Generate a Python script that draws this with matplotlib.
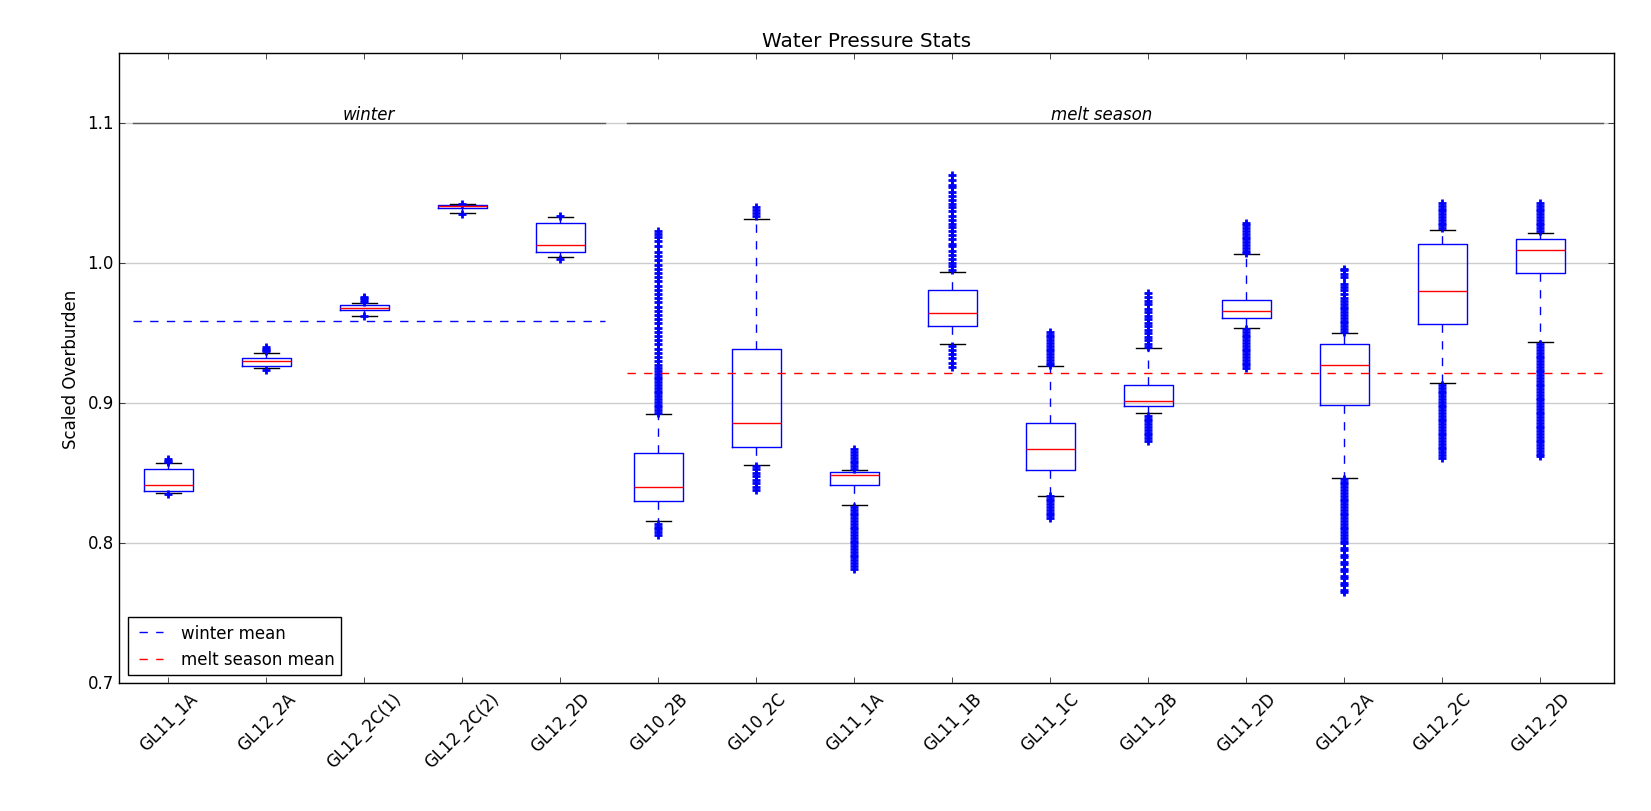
import matplotlib
matplotlib.use("Agg")
import matplotlib.pyplot as plt

plt.style.use("classic")

labels = ["GL11_1A", "GL12_2A", "GL12_2C(1)", "GL12_2C(2)", "GL12_2D",
          "GL10_2B", "GL10_2C", "GL11_1A", "GL11_1B", "GL11_1C",
          "GL11_2B", "GL11_2D", "GL12_2A", "GL12_2C", "GL12_2D"]

# box statistics
q1 = [0.8371, 0.9264, 0.9664, 1.0397, 1.0079, 0.8301, 0.8686, 0.8417,
      0.9550, 0.8527, 0.8979, 0.9612, 0.8986, 0.9564, 0.9929]
med = [0.8418, 0.9300, 0.9683, 1.0407, 1.0131, 0.8401, 0.8858, 0.8489,
       0.9643, 0.8672, 0.9014, 0.9657, 0.9271, 0.9798, 1.0095]
q3 = [0.8531, 0.9322, 0.9702, 1.0418, 1.0286, 0.8643, 0.9386, 0.8508,
      0.9807, 0.8858, 0.9129, 0.9736, 0.9422, 1.0135, 1.0171]
whislo = [0.8356, 0.9250, 0.9626, 1.0357, 1.0043, 0.8158, 0.8560, 0.8274,
          0.9424, 0.8341, 0.8929, 0.9535, 0.8464, 0.9143, 0.9436]
whishi = [0.8575, 0.9357, 0.9714, 1.0420, 1.0331, 0.8922, 1.0314, 0.8524,
          0.9936, 0.9264, 0.9393, 1.0064, 0.9502, 1.0238, 1.0216]

# outliers (dense clouds approximated by closely spaced values)
fl_gl11_1a_w = [0.858, 0.859, 0.860, 0.835]
fl_gl12_2a_w = [0.937, 0.938, 0.939, 0.940, 0.924]
fl_gl12_2c1 = [0.972, 0.9735, 0.975, 0.976, 0.962]
fl_gl12_2c2 = [1.0425, 1.0352]
fl_gl12_2d_w = [1.034, 1.003]
fl_gl10_2b = [0.893, 0.895, 0.897, 0.899, 0.901, 0.903, 0.905, 0.907, 0.909,
              0.911, 0.913, 0.915, 0.917, 0.919, 0.921, 0.923, 0.925, 0.927,
              0.930, 0.933, 0.936, 0.939, 0.942, 0.945, 0.948, 0.951, 0.954,
              0.957, 0.960, 0.963, 0.966, 0.969, 0.972, 0.975, 0.978, 0.981,
              0.984, 0.987, 0.990, 0.993, 0.996, 0.999, 1.002, 1.005, 1.008,
              1.012, 1.016, 1.019, 1.021, 1.023,
              0.806, 0.808, 0.810, 0.812, 0.814]
fl_gl10_2c = [1.034, 1.036, 1.038, 1.040,
              0.838, 0.840, 0.843, 0.845, 0.848, 0.850, 0.853, 0.855]
fl_gl11_1a_m = [0.853, 0.855, 0.857, 0.859, 0.861, 0.863, 0.865, 0.867,
                0.782, 0.784, 0.786, 0.788, 0.790, 0.792, 0.794, 0.796, 0.798,
                0.800, 0.802, 0.804, 0.806, 0.808, 0.810, 0.812, 0.814, 0.816,
                0.818, 0.820, 0.822, 0.824, 0.826]
fl_gl11_1b = [0.995, 0.998, 1.000, 1.003, 1.006, 1.009, 1.012, 1.014, 1.017,
              1.020, 1.023, 1.026, 1.028, 1.031, 1.034, 1.037, 1.040, 1.042,
              1.045, 1.048, 1.051, 1.054, 1.056, 1.059, 1.063,
              0.926, 0.929, 0.932, 0.935, 0.938, 0.941]
fl_gl11_1c = [0.927, 0.929, 0.931, 0.933, 0.935, 0.937, 0.939, 0.941, 0.943,
              0.945, 0.947, 0.949, 0.951,
              0.818, 0.820, 0.822, 0.824, 0.826, 0.828, 0.830, 0.832, 0.834]
fl_gl11_2b = [0.940, 0.942, 0.945, 0.947, 0.950, 0.952, 0.955, 0.957, 0.960,
              0.962, 0.965, 0.967, 0.971, 0.973, 0.976, 0.979,
              0.873, 0.875, 0.877, 0.879, 0.881, 0.883, 0.885, 0.887, 0.889,
              0.891]
fl_gl11_2d = [1.007, 1.009, 1.011, 1.013, 1.015, 1.017, 1.019, 1.021, 1.023,
              1.025, 1.027, 1.029,
              0.925, 0.927, 0.929, 0.931, 0.933, 0.935, 0.937, 0.939, 0.941,
              0.943, 0.945, 0.947, 0.949, 0.951, 0.953]
fl_gl12_2a_m = [0.951, 0.953, 0.955, 0.957, 0.959, 0.961, 0.963, 0.965, 0.967,
                0.969, 0.971, 0.973, 0.975, 0.978, 0.981, 0.983, 0.985, 0.990,
                0.992, 0.995, 0.996,
                0.804, 0.806, 0.808, 0.810, 0.812, 0.814, 0.816, 0.818, 0.820,
                0.822, 0.824, 0.826, 0.828, 0.830, 0.832, 0.834, 0.836, 0.838,
                0.840, 0.842, 0.844, 0.846,
                0.765, 0.767, 0.770, 0.772, 0.775, 0.777, 0.780, 0.782, 0.785,
                0.787, 0.790, 0.792, 0.795, 0.797, 0.800, 0.802]
fl_gl12_2c_m = [1.025, 1.027, 1.029, 1.031, 1.033, 1.035, 1.037, 1.039, 1.041,
                1.043,
                0.861, 0.863, 0.865, 0.867, 0.869, 0.871, 0.873, 0.875, 0.877,
                0.879, 0.881, 0.883, 0.885, 0.887, 0.889, 0.891, 0.893, 0.895,
                0.897, 0.899, 0.901, 0.903, 0.905, 0.907, 0.909, 0.911, 0.913]
fl_gl12_2d_m = [1.023, 1.025, 1.027, 1.029, 1.031, 1.033, 1.035, 1.037, 1.039,
                1.041, 1.043,
                0.862, 0.864, 0.866, 0.868, 0.870, 0.872, 0.874, 0.876, 0.878,
                0.880, 0.882, 0.884, 0.886, 0.888, 0.890, 0.892, 0.894, 0.896,
                0.898, 0.900, 0.902, 0.904, 0.906, 0.908, 0.910, 0.912, 0.914,
                0.916, 0.918, 0.920, 0.922, 0.924, 0.926, 0.928, 0.930, 0.932,
                0.934, 0.936, 0.938, 0.940, 0.942]

fliers = [fl_gl11_1a_w, fl_gl12_2a_w, fl_gl12_2c1, fl_gl12_2c2, fl_gl12_2d_w,
          fl_gl10_2b, fl_gl10_2c, fl_gl11_1a_m, fl_gl11_1b, fl_gl11_1c,
          fl_gl11_2b, fl_gl11_2d, fl_gl12_2a_m, fl_gl12_2c_m, fl_gl12_2d_m]

winter_mean = 0.9586
melt_mean = 0.9216
winter_span = [0.64, 5.46]
melt_span = [5.675, 15.64]
season_level = 1.1

stats = []
for i in range(len(labels)):
    stats.append({
        "label": labels[i],
        "q1": q1[i],
        "med": med[i],
        "q3": q3[i],
        "whislo": whislo[i],
        "whishi": whishi[i],
        "fliers": fliers[i],
    })

fig = plt.figure(figsize=(16.51, 8.12), facecolor="white")
ax = fig.add_axes([0.0723, 0.1571, 0.9055, 0.7764])

ax.yaxis.grid(True, color="0.8", linestyle="-", linewidth=1)
ax.set_axisbelow(True)

ax.bxp(
    stats,
    widths=0.5,
    boxprops=dict(color="b", linewidth=1),
    whiskerprops=dict(color="b", linestyle="--", linewidth=1),
    capprops=dict(color="k", linewidth=1),
    medianprops=dict(color="r", linewidth=1),
    flierprops=dict(marker="+", markeredgecolor="b", markersize=6,
                    markeredgewidth=2.0, linestyle="none"),
)

# season markers along the top
ax.plot(winter_span, [season_level, season_level], color="0.35", linewidth=1)
ax.plot(melt_span, [season_level, season_level], color="0.35", linewidth=1)
ax.text(sum(winter_span) / 2, season_level, "winter", style="italic",
        fontsize=12, ha="center", va="bottom")
ax.text(10.52, season_level, "melt season", style="italic",
        fontsize=12, ha="center", va="bottom")

ax.plot(winter_span, [winter_mean, winter_mean], "b--", linewidth=1,
        label="winter mean")
ax.plot(melt_span, [melt_mean, melt_mean], "r--", linewidth=1,
        label="melt season mean")

ax.set_xlim(0.5, 15.755)
ax.set_ylim(0.7, 1.15)
ax.set_yticks([0.7, 0.8, 0.9, 1.0, 1.1])
ax.set_xticks(range(1, len(labels) + 1))
ax.set_xticklabels(labels, rotation=45, fontsize=12)
ax.tick_params(axis="y", labelsize=12)

ax.set_title("Water Pressure Stats", fontsize=14.4)
ax.set_ylabel("Scaled Overburden", fontsize=12)
ax.legend(loc="lower left", fontsize=12, fancybox=False, borderaxespad=0.5)

fig.savefig("out.png", dpi=100, facecolor="white")
